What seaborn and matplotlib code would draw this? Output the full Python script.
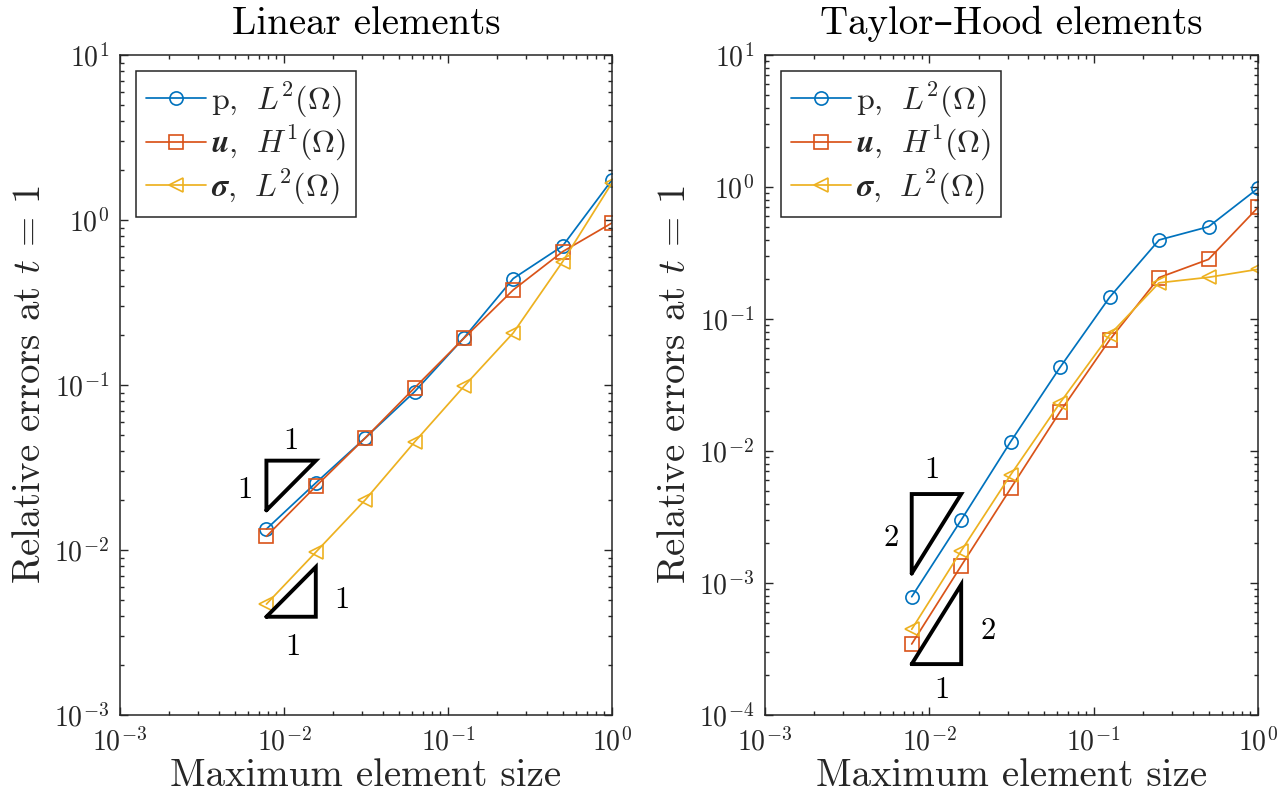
import numpy as np
import pandas as pd
import matplotlib
matplotlib.use("Agg")
import matplotlib.pyplot as plt
import seaborn as sns

# ---------------- data ----------------
h = [1/128, 1/64, 1/32, 1/16, 1/8, 1/4, 1/2, 1.0]

lin_p     = [0.0134, 0.0255, 0.0477, 0.0910, 0.193, 0.442, 0.696, 1.75]
lin_u     = [0.0121, 0.0243, 0.0477, 0.0960, 0.192, 0.377, 0.643, 0.96]
lin_sigma = [0.00470, 0.0097, 0.0201, 0.0451, 0.098, 0.207, 0.559, 1.68]

th_p     = [0.000787, 0.0030, 0.01177, 0.0431, 0.146, 0.397, 0.50, 0.977]
th_u     = [0.000345, 0.00135, 0.0052, 0.0199, 0.0693, 0.206, 0.283, 0.70]
th_sigma = [0.000446, 0.00175, 0.0066, 0.0232, 0.0757, 0.188, 0.207, 0.238]

labels = [r"p, $\;L^2(\Omega)$", r"$\boldsymbol{u}$, $\;H^1(\Omega)$",
          r"$\boldsymbol{\sigma}$, $\;L^2(\Omega)$"]
titles = ["Linear elements", "Taylor\u2013Hood elements"]
xlabel = "Maximum element size"
ylabel = r"Relative errors at $t\,=\,1$"

# slope triangles (x0, x1, ylow, yhigh)
lin_tri_up = (1/128, 1/64, 0.0174, 0.0348)
lin_tri_lo = (1/128, 1/64, 0.00394, 0.00788)
th_tri_up = (1/128, 1/64, 0.00118, 0.00472)
th_tri_lo = (1/128, 1/64, 0.000243, 0.000972)

# triangle label positions (x, y, text)
lin_tri_labels = [(0.0110, 0.0453, "1"), (0.00578, 0.0231, "1"),
                  (0.0225, 0.00498, "1"), (0.01135, 0.00259, "1")]
th_tri_labels = [(0.01037, 0.00718, "1"), (0.00582, 0.00218, "2"),
                 (0.0228, 0.000428, "2"), (0.0119, 0.000155, "1")]

# ---------------- style ----------------
sns.set_style("ticks")
plt.rcParams["font.family"] = ["cmr10", "DejaVu Serif"]
plt.rcParams["mathtext.fontset"] = "cm"
plt.rcParams["axes.formatter.use_mathtext"] = True
plt.rcParams["axes.unicode_minus"] = False

colors = ["#0072BD", "#D95319", "#EDB120"]
markers = ["o", "s", "<"]
axcol = "#262626"

fig = plt.figure(figsize=(12.84, 8.02), dpi=100)
ax1 = fig.add_axes([120/1284, 1-715/802, 492/1284, 660/802])
ax2 = fig.add_axes([765/1284, 1-715/802, 493/1284, 660/802])


def draw(ax, series, title, ylim, tris, tri_labels):
    for vals, c, m, lab in zip(series, colors, markers, labels):
        df = pd.DataFrame({"h": h, "err": vals})
        sns.lineplot(data=df, x="h", y="err", ax=ax, color=c, marker=m,
                     markersize=9.5, markerfacecolor="none", markeredgecolor=c,
                     markeredgewidth=1.2, linewidth=1.25, label=lab,
                     estimator=None, sort=False)
    for (x0, x1, ylo, yhi), kind in zip(tris, ["up", "lo"]):
        if kind == "up":
            xs = [x0, x0, x1, x0]
            ys = [ylo, yhi, yhi, ylo]
        else:
            xs = [x0, x1, x1, x0]
            ys = [ylo, ylo, yhi, ylo]
        ax.plot(xs, ys, color="black", linewidth=2.8, solid_joinstyle="miter")
    for x, y, t in tri_labels:
        ax.text(x, y, t, fontsize=22, ha="center", va="center", color="black")
    ax.set_xscale("log")
    ax.set_yscale("log")
    ax.set_xlim(1e-3, 1e0)
    ax.set_ylim(*ylim)
    ax.set_title(title, fontsize=28, pad=15, color="black")
    ax.set_xlabel(xlabel, fontsize=28, color=axcol, labelpad=1)
    ax.set_ylabel(ylabel, fontsize=28, color=axcol, labelpad=4)
    for s in ax.spines.values():
        s.set_visible(True)
        s.set_color(axcol)
        s.set_linewidth(1.1)
    ax.tick_params(which="both", direction="in", top=True, right=True,
                   colors=axcol, labelsize=20, width=1.0)
    ax.tick_params(which="major", length=6, pad=8)
    ax.tick_params(axis="x", which="major", pad=9)
    ax.tick_params(which="minor", length=3)
    leg = ax.legend(loc="upper left", fontsize=23, frameon=True, fancybox=False,
                    edgecolor=axcol, framealpha=1, handlelength=1.9,
                    borderpad=0.3, labelspacing=0.15, handletextpad=0.15,
                    borderaxespad=0.5)
    leg.get_frame().set_linewidth(1.1)


draw(ax1, [lin_p, lin_u, lin_sigma], titles[0], (1e-3, 1e1),
     [lin_tri_up, lin_tri_lo], lin_tri_labels)
draw(ax2, [th_p, th_u, th_sigma], titles[1], (1e-4, 1e1),
     [th_tri_up, th_tri_lo], th_tri_labels)

fig.savefig("out.png", dpi=100)
